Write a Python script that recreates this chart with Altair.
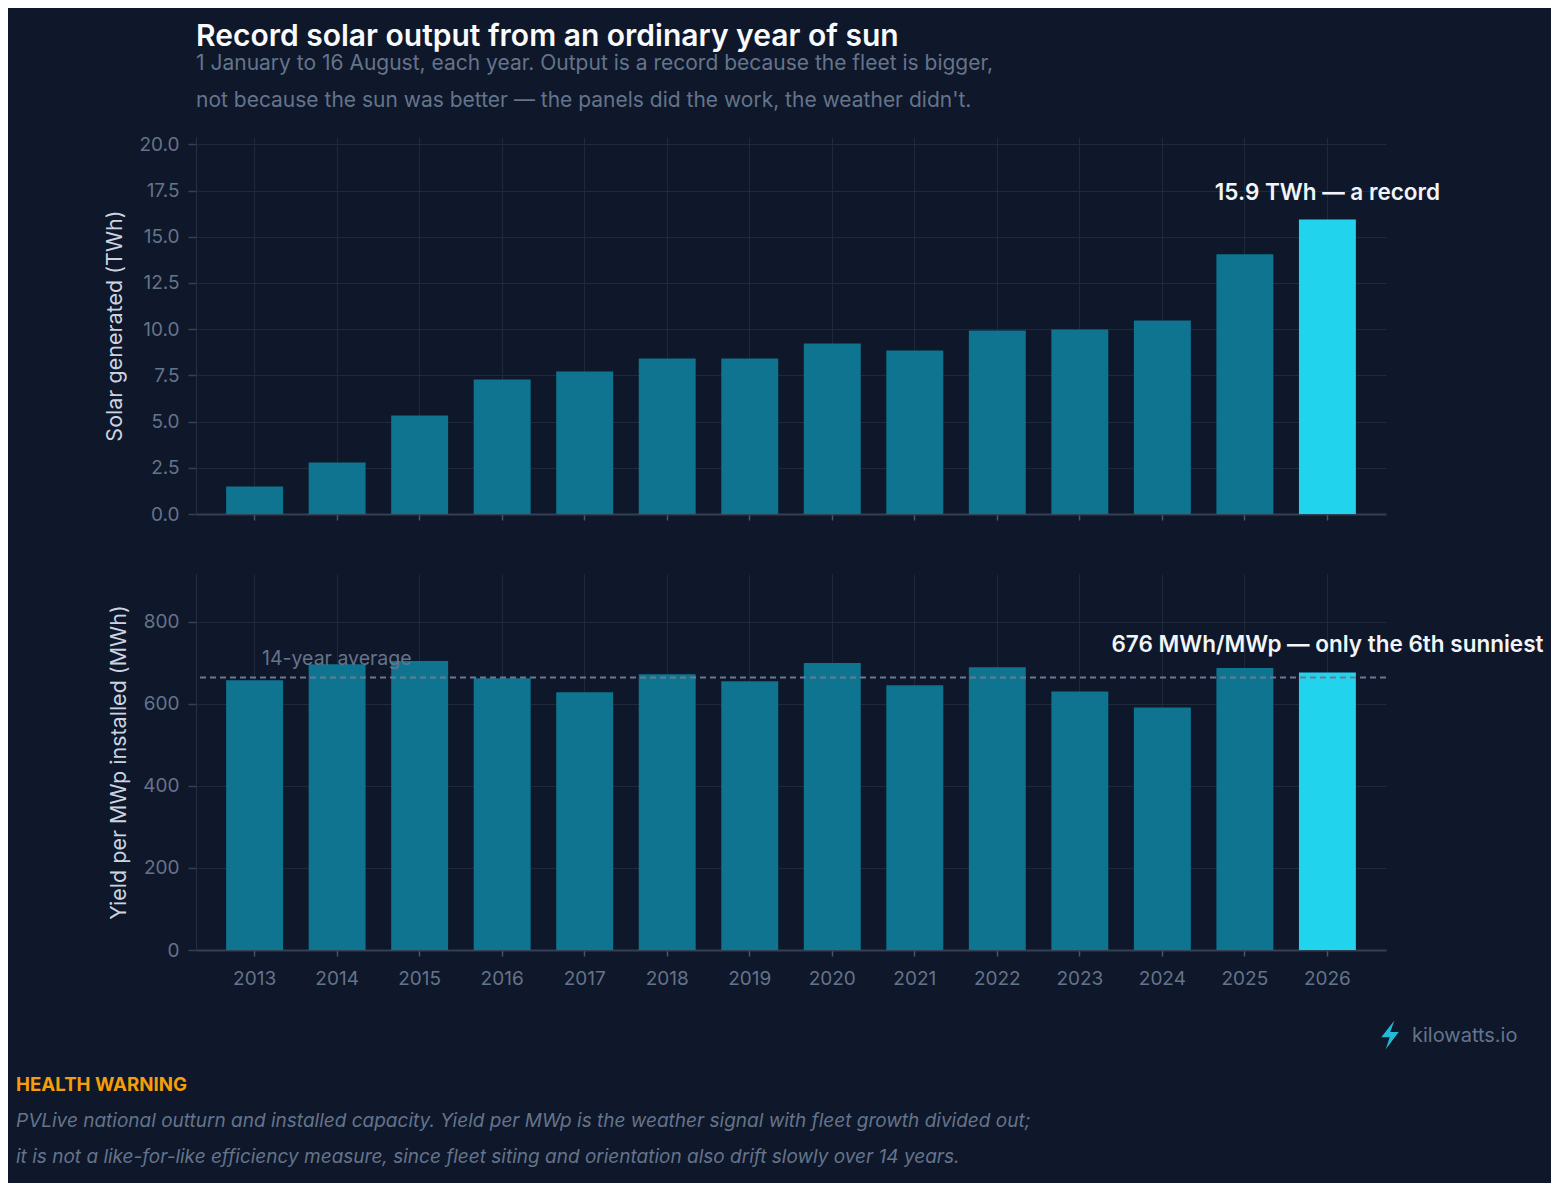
import pandas as pd
import altair as alt

# Jan 1 - Aug 16 of each year
years = [str(y) for y in range(2013, 2027)]
solar_twh = [1.49, 2.79, 5.33, 7.28, 7.71, 8.42, 8.42, 9.23, 8.85, 9.93, 9.99, 10.47, 14.05, 15.94]
yield_mwh = [657, 696, 704, 662, 628, 672, 655, 699, 645, 689, 630, 591, 687, 676]

title = "Record solar output from an ordinary year of sun"
subtitle = [
    "1 January to 16 August, each year. Output is a record because the fleet is bigger,",
    "not because the sun was better \u2014 the panels did the work, the weather didn't.",
]
warning_head = "HEALTH WARNING"
warning_lines = [
    "PVLive national outturn and installed capacity. Yield per MWp is the weather signal with fleet growth divided out;",
    "it is not a like-for-like efficiency measure, since fleet siting and orientation also drift slowly over 14 years.",
]
brand = "kilowatts.io"

BG = "#0f172a"
BAR = "#0e7490"
HOT = "#22d3ee"
GRID = "#1e293b"
MUTED = "#64748b"
FONT = "Inter"

df = pd.DataFrame({
    "year": years,
    "twh": solar_twh,
    "yield": yield_mwh,
    "latest": [y == years[-1] for y in years],
})

rank = sorted(yield_mwh, reverse=True).index(yield_mwh[-1]) + 1
suffix = {1: "st", 2: "nd", 3: "rd"}.get(rank, "th")
note_top = f"{solar_twh[-1]:.1f} TWh \u2014 a record"
note_bottom = f"{yield_mwh[-1]} MWh/MWp \u2014 only the {rank}{suffix} sunniest"

xscale = alt.Scale(paddingInner=0.31, paddingOuter=0.365)
bar_color = alt.when(alt.datum.latest).then(alt.value(HOT)).otherwise(alt.value(BAR))


def x_axis(labels):
    return alt.Axis(
        title=None, labels=labels, grid=True, gridColor=GRID, bandPosition=0.5,
        ticks=True, tickSize=6, tickColor="#475569", tickWidth=1.5,
        domainColor="#334155", domainWidth=2, labelAngle=0, labelPadding=13,
    )


def y_axis(title_text, values, fmt):
    return alt.Axis(
        title=title_text, values=values, format=fmt, grid=True, gridColor=GRID,
        tickSize=8, tickColor="#334155", tickWidth=1.5, domainColor="#243045",
        labelPadding=9, titlePadding=12,
    )


base = alt.Chart(df)

# top panel: total output
bars_top = base.mark_bar().encode(
    x=alt.X("year:O", scale=xscale, axis=x_axis(False)),
    y=alt.Y("twh:Q", scale=alt.Scale(domain=[0, 20.4], nice=False),
            axis=y_axis("Solar generated (TWh)", [0, 2.5, 5, 7.5, 10, 12.5, 15, 17.5, 20], ".1f")),
    color=bar_color,
)
label_top = base.transform_filter(alt.datum.latest).mark_text(
    font=FONT, fontSize=22.5, fontWeight=600, color="#f1f5f9", dy=-19, baseline="alphabetic"
).encode(x="year:O", y="twh:Q", text=alt.value(note_top))

top = (bars_top + label_top).properties(
    width=1190, height=377,
    title=alt.Title(
        title, subtitle=subtitle, anchor="start", frame="group", font=FONT,
        fontSize=30, fontWeight=600, color="#f8fafc", subtitleFont=FONT,
        subtitleFontSize=21, subtitleColor=MUTED, subtitleLineHeight=37,
        subtitlePadding=1, offset=24,
    ),
)

# bottom panel: yield per MWp
bars_bot = base.mark_bar().encode(
    x=alt.X("year:O", scale=xscale, axis=x_axis(True)),
    y=alt.Y("yield:Q", scale=alt.Scale(domain=[0, 916], nice=False),
            axis=y_axis("Yield per MWp installed (MWh)", [0, 200, 400, 600, 800], "d")),
    color=bar_color,
)
avg_rule = base.mark_rule(color="#6b7a93", strokeWidth=2, strokeDash=[6, 4]).encode(
    y="mean(yield):Q"
)
avg_label = base.mark_text(
    font=FONT, fontSize=19.5, color=MUTED, align="left", baseline="alphabetic", dy=-13
).encode(x=alt.value(66), y="mean(yield):Q", text=alt.value(f"{len(years)}-year average"))
label_bot = base.transform_filter(alt.datum.latest).mark_text(
    font=FONT, fontSize=22.5, fontWeight=600, color="#f1f5f9", dy=-21, baseline="alphabetic"
).encode(x="year:O", y="yield:Q", text=alt.value(note_bottom))


def note(text, x, y, **style):
    return alt.Chart(pd.DataFrame({"t": [text]})).mark_text(
        font=FONT, align="left", baseline="alphabetic", **style
    ).encode(x=alt.value(x), y=alt.value(y), text="t:N")


bolt = alt.Chart(pd.DataFrame({"t": [brand]})).mark_point(
    shape="M0.3,-1 L-0.6,0.15 L-0.02,0.15 L-0.3,1 L0.6,-0.2 L0.02,-0.2 Z",
    filled=True, color="#22b8d8", opacity=1, size=850,
).encode(x=alt.value(1194), y=alt.value(461))

footer = (
    bolt
    + note(brand, 1216, 468, fontSize=20, color=MUTED)
    + note(warning_head, -180, 517, fontSize=18.7, fontWeight="bold", color="#f59e0b")
    + note(warning_lines[0], -180, 553, fontSize=19, fontStyle="italic", color=MUTED)
    + note(warning_lines[1], -180, 589, fontSize=19, fontStyle="italic", color=MUTED)
)

bottom = (bars_bot + avg_rule + avg_label + label_bot + footer).properties(width=1190, height=376)

chart = alt.vconcat(top, bottom, spacing=50).properties(
    background=BG, padding={"left": 8, "top": 14, "right": 7, "bottom": 16}
).configure_view(stroke=None).configure_axis(
    labelFont=FONT, labelFontSize=19, labelColor=MUTED,
    titleFont=FONT, titleFontSize=21.5, titleFontWeight="normal", titleColor="#cbd5e1",
)

chart.save("out.html", embed_options={"renderer": "svg", "actions": False})
